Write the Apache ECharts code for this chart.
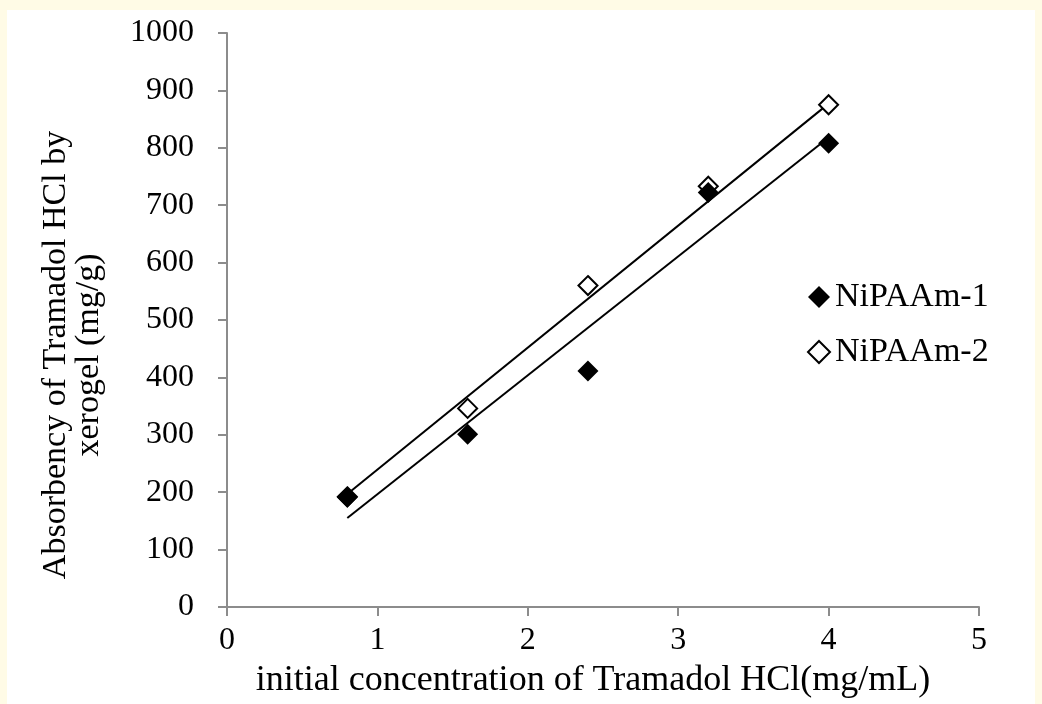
<!DOCTYPE html>
<html>
<head>
<meta charset="utf-8">
<script src="https://cdn.jsdelivr.net/npm/echarts@6/dist/echarts.min.js"></script>
<style>
  html, body { margin: 0; padding: 0; background: #fffbe6; }
  #main { position: absolute; left: 7px; top: 10px; width: 1028px; height: 694px; background: #ffffff; }
</style>
</head>
<body>
<div id="main"></div>
<script>
// 浓度 (mg/mL)
let concentration = [0.8, 1.6, 2.4, 3.2, 4.0];
// 吸附量 (mg/g)
let nipaam1 = [191, 301, 411, 722, 808];
let nipaam2 = [192, 346, 560, 733, 875];
// 趋势线两端
let trend1 = [[0.8, 155], [4.0, 818]];
let trend2 = [[0.8, 197], [4.0, 877]];
let xTicks = [0, 1, 2, 3, 4, 5];
let yTicks = [0, 100, 200, 300, 400, 500, 600, 700, 800, 900, 1000];

let chart = echarts.init(document.getElementById('main'));
let serif = 'Liberation Serif';

let pairs = function(ys){
    return concentration.map(function(x, i){ return [x, ys[i]]; });
};

let option = {
    backgroundColor: '#ffffff',
    animation: false,
    grid: {
        left: 220,
        right: 56,
        top: 23,
        bottom: 97
    },
    legend: {
        orient: 'vertical',
        left: 795,
        top: 265,
        itemGap: 21,
        itemWidth: 22,
        itemHeight: 22,
        data: ['NiPAAm-1', 'NiPAAm-2'],
        textStyle: {
            fontFamily: serif,
            fontSize: 34,
            color: '#000'
        }
    },
    xAxis: {
        type: 'value',
        min: xTicks[0],
        max: xTicks[xTicks.length - 1],
        interval: 1,
        name: 'initial concentration of Tramadol HCl(mg/mL)',
        nameLocation: 'middle',
        nameGap: 56,
        nameTextStyle: {
            fontFamily: serif,
            fontSize: 36,
            color: '#000',
            padding: [0, 20, 0, 0]
        },
        axisLine: { lineStyle: { color: '#8c8c8c', width: 2 } },
        axisTick: { show: true, length: 9, lineStyle: { color: '#8c8c8c', width: 2 } },
        axisLabel: {
            margin: 18,
            fontFamily: serif,
            fontSize: 32,
            color: '#000'
        },
        splitLine: { show: false }
    },
    yAxis: {
        type: 'value',
        min: yTicks[0],
        max: yTicks[yTicks.length - 1],
        interval: 100,
        axisLine: { show: true, lineStyle: { color: '#8c8c8c', width: 2 } },
        axisTick: { show: true, length: 9, lineStyle: { color: '#8c8c8c', width: 2 } },
        axisLabel: {
            margin: 33,
            fontFamily: serif,
            fontSize: 32,
            color: '#000',
            formatter: function(v){ return String(v); }
        },
        splitLine: { show: false }
    },
    graphic: [{
        type: 'text',
        x: 66,
        y: 345,
        rotation: Math.PI / 2,
        style: {
            text: 'Absorbency of Tramadol HCl by\nxerogel (mg/g)',
            font: '34px "Liberation Serif"',
            fill: '#000',
            align: 'center',
            verticalAlign: 'middle',
            lineHeight: 33
        }
    }],
    series: [
        {
            name: 'trend2',
            type: 'line',
            data: trend2,
            showSymbol: false,
            silent: true,
            lineStyle: { color: '#000', width: 2 },
            z: 2
        },
        {
            name: 'trend1',
            type: 'line',
            data: trend1,
            showSymbol: false,
            silent: true,
            lineStyle: { color: '#000', width: 2 },
            z: 2
        },
        {
            name: 'NiPAAm-2',
            type: 'scatter',
            data: pairs(nipaam2),
            symbol: 'diamond',
            symbolSize: [19, 19],
            itemStyle: { color: '#ffffff', borderColor: '#000', borderWidth: 2, opacity: 1 },
            z: 3
        },
        {
            name: 'NiPAAm-1',
            type: 'scatter',
            data: pairs(nipaam1),
            symbol: 'diamond',
            symbolSize: [21, 21],
            itemStyle: { color: '#000', opacity: 1 },
            z: 4
        }
    ]
};
chart.setOption(option);
</script>
</body>
</html>
